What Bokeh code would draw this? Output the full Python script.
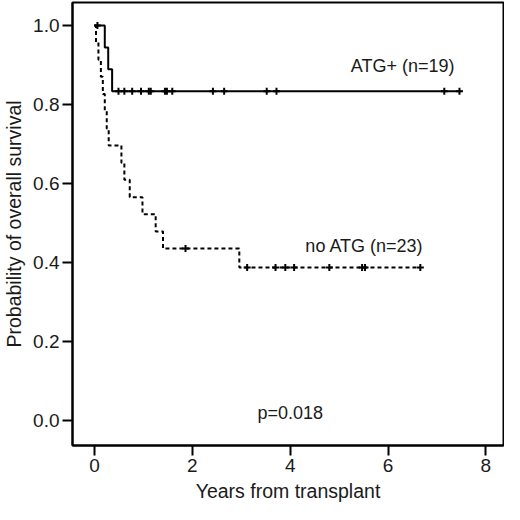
from bokeh.plotting import figure
from bokeh.models import Range1d, FixedTicker, Label
from bokeh.embed import file_html
from bokeh.resources import INLINE

# Kaplan-Meier steps (years, survival)
atg_t = [0.0, 0.21, 0.28, 0.36, 7.5]
atg_s = [1.0, 0.944, 0.889, 0.833, 0.833]
atg_cens_t = [0.06, 0.49, 0.61, 0.77, 0.95, 1.11, 1.15, 1.44, 1.48, 1.59,
              2.42, 2.65, 3.52, 3.72, 7.15, 7.46]
atg_cens_s = [1.0] + [0.833] * 15

noatg_t = [0.0, 0.03, 0.08, 0.13, 0.17, 0.21, 0.25, 0.29, 0.55, 0.61, 0.72,
           0.98, 1.25, 1.40, 2.96, 6.66]
noatg_s = [1.0, 0.957, 0.913, 0.870, 0.826, 0.783, 0.739, 0.696, 0.652, 0.609,
           0.565, 0.522, 0.478, 0.435, 0.387, 0.387]
noatg_cens_t = [1.86, 3.12, 3.70, 3.90, 4.08, 4.80, 5.47, 5.53, 6.66]
noatg_cens_s = [0.435] + [0.387] * 8

x_ticks = [0, 2, 4, 6, 8]
y_ticks = [0.0, 0.2, 0.4, 0.6, 0.8, 1.0]
y_tick_labels = ["0.0", "0.2", "0.4", "0.6", "0.8", "1.0"]

FONT = "Liberation Sans"
INK = "#1a1a1a"

p = figure(width=504, height=504, output_backend="svg", toolbar_location=None,
           x_range=Range1d(-0.45, 8.36), y_range=Range1d(-0.064, 1.058),
           min_border_left=0, min_border_right=1, min_border_top=2, min_border_bottom=2)

p.grid.visible = False
p.outline_line_color = "black"
p.outline_line_width = 2
p.background_fill_color = "white"
p.border_fill_color = "white"

# curves
p.step(atg_t, atg_s, mode="after", line_color="black", line_width=2)
p.step(noatg_t, noatg_s, mode="after", line_color="black", line_width=2, line_dash="4 3")

# censor marks
p.scatter(atg_cens_t, atg_cens_s, marker="cross", size=7, line_color="black", line_width=2)
p.scatter(noatg_cens_t, noatg_cens_s, marker="cross", size=7, line_color="black", line_width=2)

# annotations
p.add_layout(Label(x=5.24, y=0.898, text="ATG+ (n=19)", text_font=FONT, text_font_size="18px",
                   text_color=INK, text_baseline="middle"))
p.add_layout(Label(x=4.31, y=0.4425, text="no ATG (n=23)", text_font=FONT, text_font_size="18px",
                   text_color=INK, text_baseline="middle"))
p.add_layout(Label(x=4.0, y=0.019, text="p=0.018", text_font=FONT, text_font_size="18px",
                   text_color=INK, text_baseline="middle", text_align="center"))

# axes
p.xaxis.ticker = FixedTicker(ticks=x_ticks)
p.yaxis.ticker = FixedTicker(ticks=y_ticks)
p.yaxis.major_label_overrides = dict(zip(y_ticks, y_tick_labels))
p.xaxis.axis_label = "Years from transplant"
p.yaxis.axis_label = "Probability of overall survival"

for ax in (p.xaxis, p.yaxis):
    ax.axis_line_color = "black"
    ax.axis_line_width = 2
    ax.major_tick_line_color = "black"
    ax.major_tick_line_width = 2
    ax.major_tick_in = 0
    ax.major_tick_out = 10
    ax.minor_tick_line_color = None
    ax.major_label_text_font = FONT
    ax.major_label_text_font_size = "19px"
    ax.major_label_text_color = INK
    ax.major_label_standoff = 3
    ax.axis_label_text_font = FONT
    ax.axis_label_text_font_size = "19.5px"
    ax.axis_label_text_font_style = "normal"
    ax.axis_label_text_color = INK
    ax.axis_label_standoff = 5

open("out.html", "w").write(file_html(p, INLINE))
